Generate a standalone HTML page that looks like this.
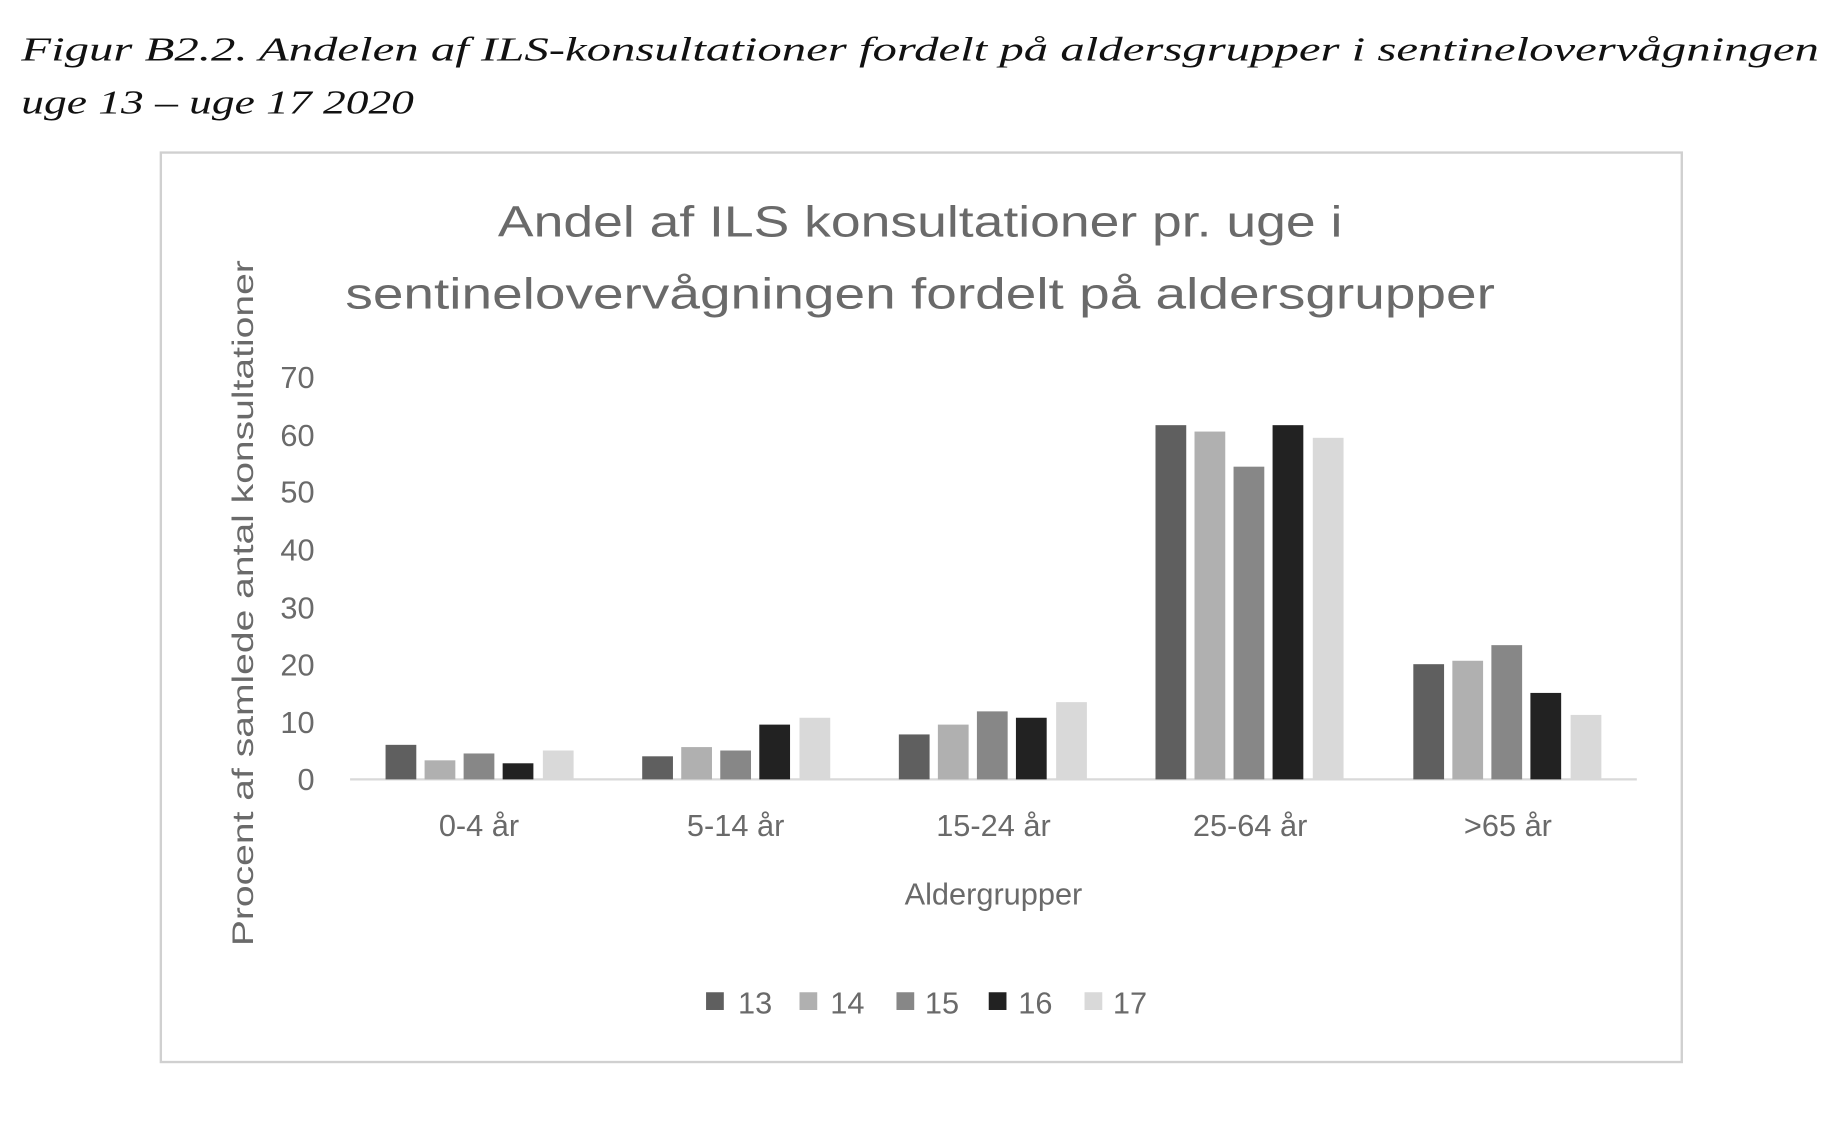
<!DOCTYPE html>
<html><head><meta charset="utf-8"><style>html,body{margin:0;padding:0;background:#fff}</style></head>
<body>
<svg width="1845" height="1124" viewBox="0 0 1560 950.4" preserveAspectRatio="none" xmlns="http://www.w3.org/2000/svg">
<rect width="1560" height="950.4" fill="#fff"/>
<g font-family="Liberation Serif, serif" font-style="italic" font-size="29" fill="#111">
<text x="18" y="51" textLength="1520" lengthAdjust="spacingAndGlyphs">Figur B2.2. Andelen af ILS-konsultationer fordelt på aldersgrupper i sentineloverv&#229;gningen</text>
<text x="18" y="96" textLength="332" lengthAdjust="spacingAndGlyphs">uge 13 – uge 17 2020</text>
</g>
<rect x="136" y="129" width="1286" height="769" fill="#fff" stroke="#d0d0d0" stroke-width="2"/>
<g font-family="Liberation Sans, sans-serif" fill="#6a6a6a">
<text x="778" y="200" font-size="37" text-anchor="middle" textLength="714" lengthAdjust="spacingAndGlyphs">Andel af ILS konsultationer pr. uge i</text>
<text x="778" y="261" font-size="37" text-anchor="middle" textLength="972" lengthAdjust="spacingAndGlyphs">sentineloverv&#229;gningen fordelt på aldersgrupper</text>
<g font-size="26" text-anchor="end">
<text x="266" y="328">70</text><text x="266" y="377">60</text><text x="266" y="425">50</text><text x="266" y="474">40</text><text x="266" y="523">30</text><text x="266" y="571">20</text><text x="266" y="620">10</text><text x="266" y="668">0</text>
</g>
<text transform="translate(214,510) rotate(-90)" font-size="25" text-anchor="middle" textLength="580" lengthAdjust="spacingAndGlyphs">Procent af samlede antal konsultationer</text>
<g font-size="26" text-anchor="middle">
<text x="405" y="707">0-4 år</text><text x="622" y="707">5-14 år</text><text x="840" y="707">15-24 år</text><text x="1057" y="707">25-64 år</text><text x="1275" y="707">&gt;65 år</text>
</g>
<text x="840" y="765" font-size="26" text-anchor="middle">Aldergrupper</text>
</g>
<line x1="296" y1="659" x2="1384" y2="659" stroke="#d9d9d9" stroke-width="2"/>
<g id="bars"></g>
<g font-family="Liberation Sans, sans-serif" font-size="26" fill="#6a6a6a">
<rect x="597" y="839" width="15" height="15" fill="#5f5f5f"/><text x="624" y="857">13</text>
<rect x="676" y="839" width="15" height="15" fill="#b0b0b0"/><text x="702" y="857">14</text>
<rect x="758" y="839" width="15" height="15" fill="#878787"/><text x="782" y="857">15</text>
<rect x="836" y="839" width="15" height="15" fill="#222222"/><text x="861" y="857">16</text>
<rect x="917" y="839" width="15" height="15" fill="#d9d9d9"/><text x="941" y="857">17</text>
</g>
<g>
<!-- y0=659, 4.87 per unit -->
<rect x="326" y="629.8" width="26" height="29.2" fill="#5f5f5f"/>
<rect x="359" y="642.9" width="26" height="16.1" fill="#b0b0b0"/>
<rect x="392" y="637.1" width="26" height="21.9" fill="#878787"/>
<rect x="425" y="645.4" width="26" height="13.6" fill="#222222"/>
<rect x="459" y="634.6" width="26" height="24.4" fill="#d9d9d9"/>
<rect x="543" y="639.5" width="26" height="19.5" fill="#5f5f5f"/>
<rect x="576" y="631.7" width="26" height="27.3" fill="#b0b0b0"/>
<rect x="609" y="634.6" width="26" height="24.4" fill="#878787"/>
<rect x="642" y="612.7" width="26" height="46.3" fill="#222222"/>
<rect x="676" y="606.9" width="26" height="52.1" fill="#d9d9d9"/>
<rect x="760" y="621.0" width="26" height="38.0" fill="#5f5f5f"/>
<rect x="793" y="612.7" width="26" height="46.3" fill="#b0b0b0"/>
<rect x="826" y="601.5" width="26" height="57.5" fill="#878787"/>
<rect x="859" y="606.9" width="26" height="52.1" fill="#222222"/>
<rect x="893" y="593.7" width="26" height="65.3" fill="#d9d9d9"/>
<rect x="977" y="359.5" width="26" height="299.5" fill="#5f5f5f"/>
<rect x="1010" y="364.9" width="26" height="294.1" fill="#b0b0b0"/>
<rect x="1043" y="394.6" width="26" height="264.4" fill="#878787"/>
<rect x="1076" y="359.5" width="26" height="299.5" fill="#222222"/>
<rect x="1110" y="370.2" width="26" height="288.8" fill="#d9d9d9"/>
<rect x="1195" y="561.6" width="26" height="97.4" fill="#5f5f5f"/>
<rect x="1228" y="558.7" width="26" height="100.3" fill="#b0b0b0"/>
<rect x="1261" y="545.5" width="26" height="113.5" fill="#878787"/>
<rect x="1294" y="585.9" width="26" height="73.1" fill="#222222"/>
<rect x="1328" y="604.5" width="26" height="54.5" fill="#d9d9d9"/>
</g>
</svg>
</body></html>
